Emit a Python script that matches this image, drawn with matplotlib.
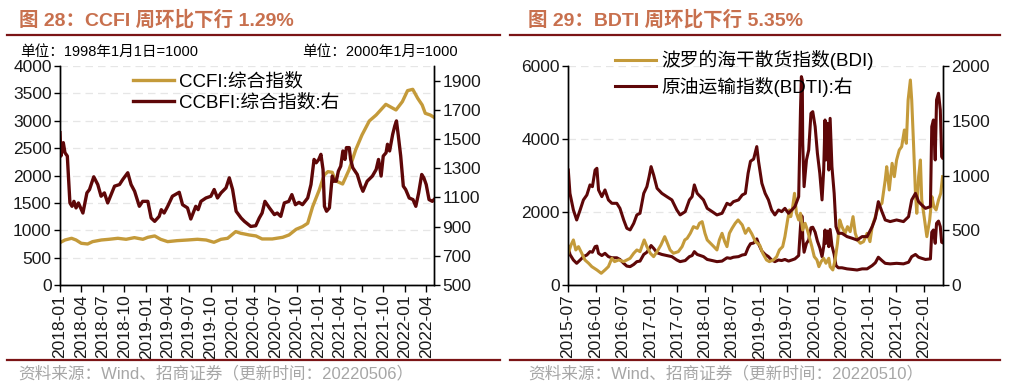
import pandas as pd
import matplotlib
matplotlib.use("Agg")
import matplotlib.pyplot as plt
import matplotlib.dates as mdates
from matplotlib.lines import Line2D

plt.rcParams['font.family'] = ['Liberation Sans', 'Noto Sans CJK SC', 'DejaVu Sans']
plt.rcParams['axes.unicode_minus'] = False

GOLD = '#C49A3A'
DARK = '#5E0708'
RULE = '#7B1416'
TITLE = '#C8704E'

# ---------------- 图28 数据 ----------------
ccfi_dates = ['2018-01-01', '2018-01-22', '2018-02-19', '2018-03-10', '2018-04-01', '2018-04-28',
              '2018-05-19', '2018-06-25', '2018-07-28', '2018-09-03', '2018-10-08', '2018-11-12',
              '2018-12-18', '2019-01-08', '2019-02-06', '2019-03-03', '2019-04-02', '2019-05-12',
              '2019-06-25', '2019-08-06', '2019-09-12', '2019-10-15', '2019-11-14', '2019-12-12',
              '2020-01-15', '2020-02-06', '2020-02-21', '2020-03-12', '2020-04-10', '2020-05-06',
              '2020-06-18', '2020-08-01', '2020-08-28', '2020-09-27', '2020-10-24', '2020-11-15',
              '2020-12-06', '2021-01-03', '2021-01-24', '2021-02-09', '2021-02-27', '2021-03-12',
              '2021-04-12', '2021-05-09', '2021-06-06', '2021-07-03', '2021-08-03', '2021-09-01',
              '2021-10-12', '2021-11-24', '2021-12-21', '2022-01-12', '2022-02-03', '2022-02-24',
              '2022-03-15', '2022-03-28', '2022-04-18', '2022-05-04']
ccfi_vals = [774, 822, 853, 822, 762, 749,
             792, 822, 835, 853, 835, 865,
             835, 871, 896, 835, 792, 810,
             822, 835, 822, 780, 835, 853,
             975, 944, 932, 914, 896, 841,
             841, 871, 914, 1017, 1066, 1127,
             1431, 1736, 2010, 2071, 2058, 1906,
             1845, 2101, 2466, 2740, 2996, 3105,
             3300, 3197, 3349, 3550, 3574, 3410,
             3288, 3136, 3105, 3063]

ccbfi_dates = ['2018-01-01', '2018-01-05', '2018-01-15', '2018-01-22', '2018-02-01', '2018-02-12',
               '2018-02-21', '2018-03-01', '2018-03-10', '2018-03-20', '2018-04-08', '2018-04-25',
               '2018-05-06', '2018-05-24', '2018-06-10', '2018-06-24', '2018-07-08', '2018-07-22',
               '2018-08-20', '2018-09-10', '2018-09-24', '2018-10-15', '2018-10-29', '2018-11-13',
               '2018-12-03', '2018-12-17', '2019-01-08', '2019-01-22', '2019-02-06', '2019-02-25',
               '2019-03-06', '2019-03-18', '2019-04-02', '2019-04-22', '2019-05-21', '2019-06-04',
               '2019-06-25', '2019-07-09', '2019-07-30', '2019-08-09', '2019-08-21', '2019-09-11',
               '2019-10-02', '2019-10-16', '2019-10-30', '2019-11-14', '2019-12-05', '2019-12-19',
               '2020-01-02', '2020-01-17', '2020-02-07', '2020-02-21', '2020-03-19', '2020-04-09',
               '2020-04-24', '2020-05-06', '2020-05-18', '2020-06-06', '2020-06-27', '2020-07-09',
               '2020-07-24', '2020-08-08', '2020-08-27', '2020-09-09', '2020-09-24', '2020-10-09',
               '2020-10-24', '2020-11-15', '2020-11-29', '2020-12-12', '2020-12-21', '2021-01-01',
               '2021-01-10', '2021-01-19', '2021-01-25', '2021-02-03', '2021-02-15', '2021-02-27',
               '2021-03-07', '2021-03-16', '2021-03-25', '2021-04-04', '2021-04-13', '2021-04-22',
               '2021-04-28', '2021-05-10', '2021-05-16', '2021-05-25', '2021-06-13', '2021-06-28',
               '2021-07-07', '2021-07-25', '2021-08-16', '2021-09-01', '2021-09-11', '2021-09-22',
               '2021-10-01', '2021-10-13', '2021-10-19', '2021-10-28', '2021-11-10', '2021-11-19',
               '2021-11-26', '2021-12-04', '2021-12-14', '2021-12-25', '2022-01-04', '2022-01-19',
               '2022-02-04', '2022-02-16', '2022-02-28', '2022-03-13', '2022-03-22', '2022-04-01',
               '2022-04-13', '2022-04-27', '2022-05-04']
ccbfi_vals = [1543, 1383, 1475, 1406, 1383, 1062,
              1039, 1073, 1028, 1062, 993, 1131,
              1154, 1241, 1188, 1108, 1131, 1062,
              1177, 1188, 1223, 1269, 1188, 1142,
              1039, 1073, 1073, 959, 936, 970,
              1016, 993, 1039, 1108, 1135, 1050,
              1028, 952, 1039, 1016, 1073, 1096,
              1108, 1154, 1096, 1131, 1165, 1234,
              1154, 1005, 959, 936, 901, 906,
              959, 993, 1073, 1028, 982, 993,
              970, 1062, 1073, 1119, 1050, 1066,
              1050, 1096, 1188, 1360, 1337, 1360,
              1395, 1291, 1039, 1005, 1028, 1246,
              1211, 1211, 1280, 1314, 1418, 1360,
              1441, 1441, 1360, 1303, 1257, 1177,
              1142, 1211, 1246, 1291, 1360, 1246,
              1383, 1406, 1464, 1418, 1532, 1590,
              1624, 1521, 1383, 1177, 1154, 1096,
              1085, 1039, 1131, 1257, 1234, 1188,
              1085, 1073, 1085]

ccfi_ticks = ['2018-01', '2018-04', '2018-07', '2018-10', '2019-01', '2019-04', '2019-07', '2019-10',
              '2020-01', '2020-04', '2020-07', '2020-10', '2021-01', '2021-04', '2021-07', '2021-10',
              '2022-01', '2022-04']

# ---------------- 图29 数据 ----------------
bdi_dates = ['2015-07-03', '2015-07-21', '2015-08-06', '2015-08-22', '2015-09-09', '2015-10-01',
             '2015-10-22', '2015-11-16', '2015-12-07', '2016-01-10', '2016-02-08', '2016-03-04',
             '2016-03-27', '2016-04-19', '2016-05-07', '2016-06-04', '2016-07-07', '2016-07-28',
             '2016-08-19', '2016-09-12', '2016-10-03', '2016-10-24', '2016-11-21', '2016-12-09',
             '2017-01-01', '2017-01-23', '2017-02-15', '2017-03-13', '2017-04-07', '2017-04-21',
             '2017-05-13', '2017-06-04', '2017-07-07', '2017-08-01', '2017-08-19', '2017-09-04',
             '2017-09-25', '2017-10-16', '2017-11-10', '2017-11-25', '2017-12-13', '2018-01-01',
             '2018-01-16', '2018-02-07', '2018-03-01', '2018-03-22', '2018-04-07', '2018-04-25',
             '2018-05-13', '2018-05-28', '2018-06-13', '2018-07-01', '2018-07-22', '2018-08-10',
             '2018-09-07', '2018-09-28', '2018-10-19', '2018-11-10', '2018-12-04', '2019-01-01',
             '2019-01-22', '2019-02-16', '2019-03-07', '2019-04-04', '2019-04-25', '2019-05-13',
             '2019-06-04', '2019-06-19', '2019-07-07', '2019-07-19', '2019-07-28', '2019-08-10',
             '2019-08-22', '2019-09-04', '2019-09-19', '2019-10-01', '2019-10-16', '2019-11-01',
             '2019-11-16', '2019-12-04', '2019-12-16', '2020-01-01', '2020-01-19', '2020-02-01',
             '2020-02-16', '2020-03-04', '2020-03-19', '2020-04-07', '2020-04-16', '2020-05-04',
             '2020-05-19', '2020-06-04', '2020-06-19', '2020-07-04', '2020-07-25', '2020-08-10',
             '2020-08-28', '2020-09-16', '2020-10-01', '2020-10-16', '2020-11-04', '2020-11-25',
             '2020-12-19', '2021-01-07', '2021-01-22', '2021-02-12', '2021-03-04', '2021-03-28',
             '2021-04-19', '2021-04-29', '2021-05-16', '2021-06-04', '2021-06-19', '2021-07-04',
             '2021-07-22', '2021-08-07', '2021-08-25', '2021-09-07', '2021-09-19', '2021-10-04',
             '2021-10-13', '2021-10-25', '2021-11-07', '2021-11-16', '2021-11-28', '2021-12-10',
             '2021-12-19', '2022-01-04', '2022-01-22', '2022-02-10', '2022-02-25', '2022-03-10',
             '2022-03-25', '2022-04-10', '2022-04-25', '2022-05-07']
bdi_vals = [869, 1097, 1234, 960, 1051, 869,
            686, 595, 503, 412, 321, 412,
            503, 732, 641, 686, 641, 686,
            732, 869, 960, 914, 1234, 1051,
            869, 777, 914, 1097, 1325, 1188,
            960, 869, 914, 1051, 1234, 1279,
            1416, 1599, 1553, 1690, 1736, 1416,
            1234, 1143, 1051, 960, 1234, 1416,
            1188, 1051, 1416, 1553, 1690, 1782,
            1645, 1416, 1553, 1400, 1188, 1097,
            869, 686, 641, 686, 777, 960,
            1051, 1325, 1782, 2056, 1873, 2147,
            2512, 1964, 1782, 1964, 1508, 1690,
            1508, 1234, 1051, 777, 686, 503,
            641, 732, 595, 732, 503, 412,
            686, 1143, 1782, 1599, 1416, 1599,
            1462, 1873, 1416, 1234, 1143, 1188,
            1416, 1188, 1599, 1873, 2147, 2238,
            2877, 3242, 2603, 3334, 2968, 3425,
            3699, 3790, 4247, 3881, 5068, 5616,
            5068, 3881, 2512, 1964, 2968, 3425,
            2329, 1873, 1325, 1782, 2420, 2147,
            2056, 2329, 2512, 2968]

bdti_dates = ['2015-07-03', '2015-07-14', '2015-08-06', '2015-08-28', '2015-09-20', '2015-10-12',
              '2015-11-04', '2015-11-25', '2015-12-11', '2015-12-29', '2016-01-10', '2016-01-21',
              '2016-02-12', '2016-03-04', '2016-03-27', '2016-04-19', '2016-05-22', '2016-06-12',
              '2016-07-07', '2016-07-28', '2016-08-19', '2016-09-12', '2016-10-03', '2016-10-24',
              '2016-11-18', '2016-12-09', '2016-12-24', '2017-01-06', '2017-01-23', '2017-02-15',
              '2017-03-19', '2017-04-21', '2017-05-25', '2017-06-27', '2017-07-19', '2017-08-22',
              '2017-09-19', '2017-10-07', '2017-10-22', '2017-11-10', '2017-12-01', '2017-12-22',
              '2018-01-16', '2018-02-18', '2018-03-22', '2018-04-25', '2018-05-28', '2018-06-19',
              '2018-07-10', '2018-08-13', '2018-09-07', '2018-09-28', '2018-10-16', '2018-11-01',
              '2018-11-22', '2018-12-13', '2018-12-25', '2019-01-16', '2019-02-07', '2019-03-01',
              '2019-03-22', '2019-04-13', '2019-05-07', '2019-05-28', '2019-06-19', '2019-07-13',
              '2019-08-04', '2019-08-25', '2019-09-19', '2019-10-01', '2019-10-07', '2019-10-13',
              '2019-10-16', '2019-10-25', '2019-11-10', '2019-11-25', '2019-12-10', '2019-12-22',
              '2020-01-07', '2020-01-22', '2020-02-07', '2020-02-22', '2020-03-04', '2020-03-13',
              '2020-03-19', '2020-03-28', '2020-04-07', '2020-04-16', '2020-04-28', '2020-05-13',
              '2020-05-25', '2020-06-10', '2020-07-04', '2020-08-07', '2020-09-10', '2020-10-13',
              '2020-11-16', '2020-12-19', '2021-01-22', '2021-02-12', '2021-03-04', '2021-03-28',
              '2021-04-19', '2021-05-22', '2021-07-04', '2021-08-19', '2021-09-22', '2021-10-13',
              '2021-11-07', '2021-11-28', '2021-12-19', '2022-01-13', '2022-02-15', '2022-02-24',
              '2022-03-07', '2022-03-19', '2022-03-28', '2022-04-10', '2022-04-22', '2022-05-01',
              '2022-05-07']
bdti_vals = [1050, 837, 685, 594, 685, 777,
             822, 914, 898, 1050, 1066, 868,
             807, 868, 777, 746, 746, 700,
             594, 518, 503, 563, 640, 655,
             837, 898, 990, 1081, 1005, 883,
             837, 807, 777, 685, 640, 670,
             777, 807, 914, 837, 807, 777,
             700, 670, 640, 655, 746, 731,
             761, 777, 822, 837, 1020, 1130,
             1150, 1264, 1127, 929, 837, 777,
             685, 640, 685, 670, 700, 655,
             685, 716, 807, 1598, 1903, 1872,
             1294, 898, 1142, 1233, 1568, 1583,
             1446, 1203, 1020, 777, 1050, 1507,
             1142, 1477, 1050, 1522, 1081, 837,
             533, 472, 472, 442, 427, 411,
             442, 442, 533, 609, 761, 670,
             594, 579, 594, 579, 624, 777,
             837, 761, 731, 700, 716, 1446,
             1507, 1142, 1690, 1751, 1598, 1172,
             1160]

bdi_ticks = ['2015-07', '2016-01', '2016-07', '2017-01', '2017-07', '2018-01', '2018-07', '2019-01',
             '2019-07', '2020-01', '2020-07', '2021-01', '2021-07', '2022-01']

W, H = 1016, 387


def px(x, y):
    return x / W, 1 - y / H


def style_axes(ax, axr, ticks):
    ax.spines['top'].set_visible(False)
    axr.spines['top'].set_visible(False)
    for a in (ax, axr):
        for s in a.spines.values():
            s.set_linewidth(1.0)
        a.tick_params(direction='out', length=4, width=1, labelsize=12.5, pad=2, labelcolor='#1a1a1a')
    ax.set_xticks(pd.to_datetime(ticks))
    ax.xaxis.set_major_formatter(mdates.DateFormatter('%Y-%m'))
    ax.tick_params(axis='x', labelrotation=90, labelsize=12.5, length=5)
    ax.yaxis.grid(True, color='#e6e6e6', linestyle=(0, (6, 4)), linewidth=0.9)
    ax.set_axisbelow(True)


fig = plt.figure(figsize=(W / 100, H / 100), dpi=100)

# ---------------- 左图 ----------------
ax1 = fig.add_axes([60 / W, 1 - 285 / H, 374 / W, 219 / H])
ax1r = ax1.twinx()
l1, = ax1.plot(pd.to_datetime(ccfi_dates), ccfi_vals, color=GOLD, lw=2.4, label='CCFI:综合指数')
l2, = ax1r.plot(pd.to_datetime(ccbfi_dates), ccbfi_vals, color=DARK, lw=2.4, label='CCBFI:综合指数:右')
ax1.set_ylim(0, 4000)
ax1.set_yticks(range(0, 4001, 500))
ax1r.set_ylim(500, 2000)
ax1r.set_yticks(range(500, 2000, 200))
ax1.set_xlim(pd.Timestamp('2018-01-01'), pd.Timestamp('2022-05-04'))
style_axes(ax1, ax1r, ccfi_ticks)
fig.legend(handles=[l1, l2], loc='upper left', bbox_to_anchor=px(133, 73), frameon=False,
           fontsize=13.5, handlelength=2.2, handletextpad=0.25, labelspacing=0.2, borderpad=0,
           borderaxespad=0)

# ---------------- 右图 ----------------
ax2 = fig.add_axes([568 / W, 1 - 285 / H, 375 / W, 219 / H])
ax2r = ax2.twinx()
ax2.plot(pd.to_datetime(bdti_dates), bdti_vals, color=DARK, lw=2.2)
l3, = ax2.plot(pd.to_datetime(bdi_dates), bdi_vals, color=GOLD, lw=2.2, label='波罗的海干散货指数(BDI)')
l4, = ax2r.plot(pd.to_datetime(bdti_dates), bdti_vals, color=DARK, lw=2.2, label='原油运输指数(BDTI):右')
ax2.set_ylim(0, 6000)
ax2.set_yticks(range(0, 6001, 2000))
ax2r.set_ylim(0, 2000)
ax2r.set_yticks(range(0, 2001, 500))
ax2.set_xlim(pd.Timestamp('2015-07-01'), pd.Timestamp('2022-05-10'))
style_axes(ax2, ax2r, bdi_ticks)
fig.legend(handles=[l3, l4], loc='upper left', bbox_to_anchor=px(615, 50), frameon=False,
           fontsize=13.5, handlelength=2.2, handletextpad=0.25, labelspacing=0.35, borderpad=0,
           borderaxespad=0)

# ---------------- 标题、单位、来源 ----------------
fig.text(*px(19, 20), '图 28：CCFI 周环比下行 1.29%', color=TITLE, fontsize=14, fontweight='bold',
         va='center', ha='left')
fig.text(*px(528, 20), '图 29：BDTI 周环比下行 5.35%', color=TITLE, fontsize=14, fontweight='bold',
         va='center', ha='left')
fig.text(*px(20, 52), '单位：1998年1月1日=1000', fontsize=10.5, va='center', ha='left')
fig.text(*px(458, 52), '单位：2000年1月=1000', fontsize=10.5, va='center', ha='right')
fig.text(*px(18, 373), '资料来源：Wind、招商证券（更新时间：20220506）', color='#A6A6A6', fontsize=12,
         va='center', ha='left')
fig.text(*px(528, 373), '资料来源：Wind、招商证券（更新时间：20220510）', color='#A6A6A6', fontsize=12,
         va='center', ha='left')

for x0, x1 in ((7, 500), (510, 1000)):
    for yy in (35, 360):
        fig.add_artist(Line2D([x0 / W, x1 / W], [1 - yy / H, 1 - yy / H], color=RULE, lw=1.6))

fig.savefig('out.png', dpi=100)
